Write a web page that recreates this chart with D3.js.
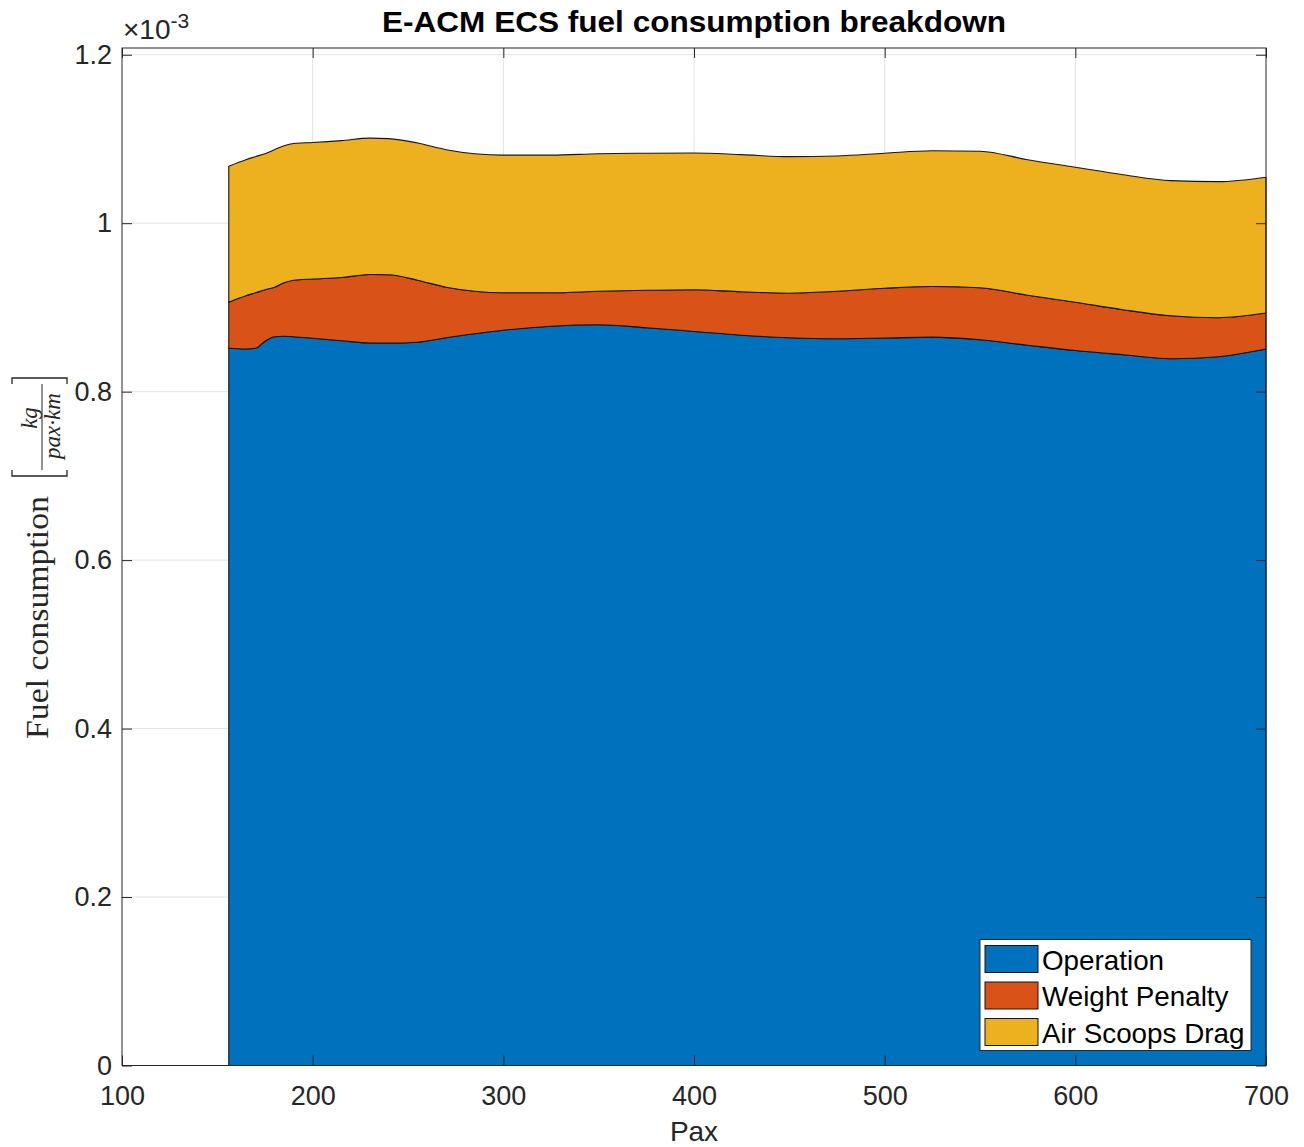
<!DOCTYPE html>
<html>
<head>
<meta charset="utf-8">
<script src="https://cdn.jsdelivr.net/npm/d3@7"></script>
<style>
  html, body { margin: 0; padding: 0; background: #fff; }
  svg { display: block; }
</style>
</head>
<body>
<svg id="chart" width="1304" height="1147"></svg>
<script>
// Passenger count (x axis)
const pax = [156, 165, 170, 175, 180, 185, 190, 200, 215, 230, 240, 255, 270, 285, 300,
             325, 350, 375, 400, 425, 450, 475, 500, 525, 550, 575, 600, 625, 650, 675, 700];

// Fuel consumption components, in 1e-3 kg/(pax·km)
const operation = [0.8518, 0.8506, 0.8515, 0.8599, 0.8652, 0.8658, 0.8652, 0.8634, 0.8605, 0.8577,
                   0.8577, 0.8587, 0.8640, 0.8688, 0.8729, 0.8777, 0.8794, 0.8759, 0.8715, 0.8670,
                   0.8640, 0.8628, 0.8637, 0.8648, 0.8616, 0.8551, 0.8489, 0.8438, 0.8391, 0.8415, 0.8506];
const weightPenalty = [0.0544, 0.0633, 0.0659, 0.0611, 0.0588, 0.0635, 0.0671, 0.0703, 0.0750, 0.0814,
                       0.0811, 0.0736, 0.0600, 0.0504, 0.0445, 0.0397, 0.0398, 0.0445, 0.0495, 0.0516,
                       0.0529, 0.0564, 0.0591, 0.0601, 0.0618, 0.0594, 0.0573, 0.0535, 0.0510, 0.0463, 0.0427];
const airScoopsDrag = [0.1615, 0.1615, 0.1616, 0.1615, 0.1633, 0.1627, 0.1624, 0.1621, 0.1625, 0.1619,
                       0.1616, 0.1629, 0.1633, 0.1633, 0.1634, 0.1634, 0.1633, 0.1627, 0.1624, 0.1628,
                       0.1621, 0.1606, 0.1603, 0.1612, 0.1621, 0.1609, 0.1603, 0.1603, 0.1604, 0.1615, 0.1613];

const seriesNames = ["Operation", "Weight Penalty", "Air Scoops Drag"];
const seriesColors = ["#0072BD", "#D95319", "#EDB120"];

const xTicks = [100, 200, 300, 400, 500, 600, 700];
const yTicks = [0, 0.2, 0.4, 0.6, 0.8, 1.0, 1.2];
const yTickLabels = ["0", "0.2", "0.4", "0.6", "0.8", "1", "1.2"];

const titleText = "E-ACM ECS fuel consumption breakdown";
const xLabelText = "Pax";

// ---------------------------------------------------------------
const svg = d3.select("#chart");
const plot = { left: 122, right: 1266, top: 48, bottom: 1065.5 };
const axisColor = "#262626";
const sans = "'Liberation Sans', Arial, Helvetica, sans-serif";
const serif = "'Liberation Serif', 'Times New Roman', serif";

const x = d3.scaleLinear().domain([100, 700]).range([plot.left, plot.right]);
const y = d3.scaleLinear().domain([0, 1.208]).range([plot.bottom, plot.top]);

const rows = pax.map((p, i) => ({
  pax: p,
  "Operation": operation[i],
  "Weight Penalty": weightPenalty[i],
  "Air Scoops Drag": airScoopsDrag[i]
}));
const stacked = d3.stack().keys(seriesNames)(rows);

// grid
const grid = svg.append("g").attr("class", "grid");
grid.selectAll("line.gx").data(xTicks.slice(1, -1)).join("line")
  .attr("x1", d => x(d)).attr("x2", d => x(d))
  .attr("y1", plot.top).attr("y2", plot.bottom)
  .attr("stroke", "#e3e3e3").attr("stroke-width", 1);
grid.selectAll("line.gy").data(yTicks.slice(1)).join("line")
  .attr("x1", plot.left).attr("x2", plot.right)
  .attr("y1", d => y(d)).attr("y2", d => y(d))
  .attr("stroke", "#e3e3e3").attr("stroke-width", 1);

// stacked areas
const area = d3.area()
  .x(d => x(d.data.pax))
  .y0(d => y(d[0]))
  .y1(d => y(d[1]))
  .curve(d3.curveMonotoneX);

svg.append("g").selectAll("path").data(stacked).join("path")
  .attr("d", area)
  .attr("fill", (d, i) => seriesColors[i])
  .attr("stroke", "#151515")
  .attr("stroke-width", 1.1)
  .attr("stroke-linejoin", "round");

// axes box with inward ticks on all four sides
const axes = svg.append("g");
const tickLen = 10;
const xAxisB = d3.axisBottom(x).tickValues(xTicks).tickSizeInner(-tickLen).tickSizeOuter(0).tickPadding(20).tickFormat(d3.format("d"));
const xAxisT = d3.axisTop(x).tickValues(xTicks).tickSizeInner(-tickLen).tickSizeOuter(0).tickFormat("");
const yAxisL = d3.axisLeft(y).tickValues(yTicks).tickSizeInner(-tickLen).tickSizeOuter(0).tickPadding(10)
  .tickFormat((d, i) => yTickLabels[i]);
const yAxisR = d3.axisRight(y).tickValues(yTicks).tickSizeInner(-tickLen).tickSizeOuter(0).tickFormat("");

function styleAxis(g) {
  g.select(".domain").remove();
  g.selectAll(".tick line").attr("stroke", axisColor).attr("stroke-width", 1);
  g.selectAll(".tick text").attr("fill", axisColor).attr("font-family", sans).attr("font-size", 27);
}
axes.append("g").attr("transform", `translate(0,${plot.bottom})`).call(xAxisB).call(styleAxis);
axes.append("g").attr("transform", `translate(0,${plot.top})`).call(xAxisT).call(styleAxis);
axes.append("g").attr("transform", `translate(${plot.left},0)`).call(yAxisL).call(styleAxis);
axes.append("g").attr("transform", `translate(${plot.right},0)`).call(yAxisR).call(styleAxis);

axes.append("rect")
  .attr("x", plot.left).attr("y", plot.top)
  .attr("width", plot.right - plot.left).attr("height", plot.bottom - plot.top)
  .attr("fill", "none").attr("stroke", axisColor).attr("stroke-width", 1);

// exponent annotation
const expo = svg.append("text")
  .attr("x", 123).attr("y", 39)
  .attr("font-family", sans).attr("font-size", 28).attr("fill", axisColor);
expo.append("tspan").text("\u00d710");
expo.append("tspan").attr("dy", -11).attr("font-size", 21).text("-3");

// title
svg.append("text")
  .attr("x", (plot.left + plot.right) / 2).attr("y", 32)
  .attr("text-anchor", "middle")
  .attr("font-family", sans).attr("font-size", 30).attr("font-weight", "bold").attr("fill", "#000")
  .attr("textLength", 624).attr("lengthAdjust", "spacingAndGlyphs")
  .text(titleText);

// x label
svg.append("text")
  .attr("x", (plot.left + plot.right) / 2).attr("y", 1141)
  .attr("text-anchor", "middle")
  .attr("font-family", sans).attr("font-size", 28).attr("fill", axisColor)
  .text(xLabelText);

// y label: "Fuel consumption [kg / (pax·km)]" typeset vertically
const ylab = svg.append("g").attr("fill", axisColor);
ylab.append("text")
  .attr("transform", "translate(48,739) rotate(-90)")
  .attr("font-family", serif).attr("font-size", 32)
  .attr("textLength", 243).attr("lengthAdjust", "spacingAndGlyphs")
  .text("Fuel consumption");
// brackets
ylab.append("path")
  .attr("d", "M12,470 L12,476 L67,476 L67,470")
  .attr("fill", "none").attr("stroke", axisColor).attr("stroke-width", 1.3);
ylab.append("path")
  .attr("d", "M12,384 L12,378 L67,378 L67,384")
  .attr("fill", "none").attr("stroke", axisColor).attr("stroke-width", 1.3);
// fraction
ylab.append("text")
  .attr("transform", "translate(37,418) rotate(-90)")
  .attr("text-anchor", "middle")
  .attr("font-family", serif).attr("font-style", "italic").attr("font-size", 23)
  .text("kg");
ylab.append("line")
  .attr("x1", 42).attr("x2", 42).attr("y1", 384).attr("y2", 470)
  .attr("stroke", axisColor).attr("stroke-width", 1);
ylab.append("text")
  .attr("transform", "translate(60,426) rotate(-90)")
  .attr("text-anchor", "middle")
  .attr("font-family", serif).attr("font-style", "italic").attr("font-size", 23)
  .text("pax\u00b7km");

// legend
const legend = svg.append("g").attr("transform", "translate(980,939.5)");
legend.append("rect")
  .attr("width", 271).attr("height", 111)
  .attr("fill", "#fff").attr("stroke", axisColor).attr("stroke-width", 1);
const items = legend.selectAll("g.item").data(seriesNames).join("g")
  .attr("transform", (d, i) => `translate(5,${6 + i * 36.5})`);
items.append("rect")
  .attr("width", 53).attr("height", 27)
  .attr("fill", (d, i) => seriesColors[i])
  .attr("stroke", "#151515").attr("stroke-width", 1);
items.append("text")
  .attr("x", 57).attr("y", 24)
  .attr("font-family", sans).attr("font-size", 27.8).attr("fill", "#000")
  .text(d => d);
</script>
</body>
</html>
